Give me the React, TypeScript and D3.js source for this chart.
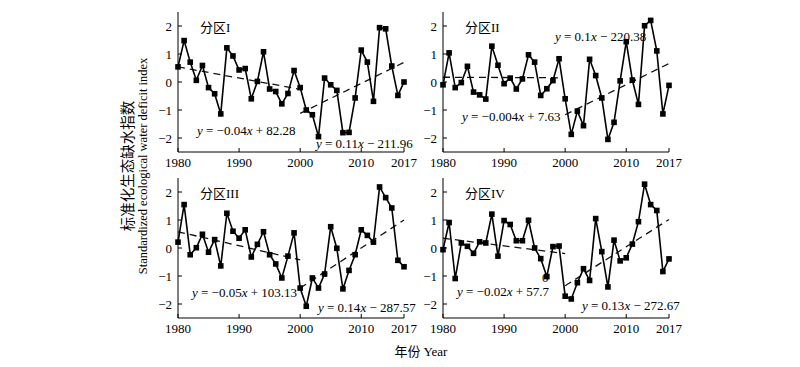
import * as d3 from 'd3';

const years = d3.range(1980, 2018);

const zone1 = [0.54, 1.48, 0.71, 0.06, 0.59, -0.2, -0.42, -1.14, 1.22, 0.93, 0.43, 0.48, -0.6, 0.02, 1.08, -0.25, -0.34, -0.78, -0.41, 0.41, -0.2, -1.0, -1.17, -1.95, 0.14, -0.1, -0.3, -1.81, -1.8, -0.57, 1.14, 0.71, -0.69, 1.94, 1.9, 0.57, -0.48, 0.0];
const zone2 = [-0.1, 1.04, -0.2, -0.02, 0.56, -0.36, -0.46, -0.61, 1.28, 0.6, -0.06, 0.14, -0.25, 0.11, 0.97, 0.71, -0.48, -0.24, 0.05, 0.83, -0.6, -1.87, -1.04, -1.56, 0.81, 0.23, -0.57, -2.05, -1.44, 0.04, 1.44, 0.07, -0.8, 2.01, 2.2, 1.11, -1.14, -0.12];
const zone3 = [0.21, 1.55, -0.24, 0.01, 0.49, -0.15, 0.3, -0.64, 1.24, 0.6, 0.35, 0.65, -0.32, 0.13, 0.58, -0.24, -0.57, -1.07, -0.29, 0.54, -1.43, -2.08, -1.07, -1.43, -0.93, 0.76, -0.01, -1.46, -0.8, -0.24, 0.65, 0.45, 0.21, 2.18, 1.8, 1.43, -0.44, -0.67];
const zone4 = [-0.06, 0.91, -1.09, 0.18, 0.06, -0.19, 0.22, 0.18, 1.21, -0.29, 0.98, 0.84, 0.26, 0.26, 0.99, 0.0, -0.38, -1.02, 0.05, 0.07, -1.72, -1.82, -1.24, -0.74, -1.16, 1.05, -0.13, -1.39, 0.28, -0.46, -0.35, 0.14, 0.94, 2.28, 1.55, 1.34, -0.84, -0.39];

// trend segments [year, value]
const trendA1 = [[1980, 0.54], [2000, -0.26]];
const trendB1 = [[2000, -1.12], [2017, 0.7]];
const trendA2 = [[1980, 0.17], [1999.5, 0.15]];
const trendB2 = [[2000, -1.17], [2017, 0.66]];
const trendA3 = [[1980, 0.58], [2000, -0.42]];
const trendB3 = [[2000, -1.43], [2017, 1.0]];
const trendA4 = [[1980, 0.35], [2000, -0.2]];
const trendB4 = [[2000, -1.35], [2017, 1.02]];

const zoneNames = ['分区I', '分区II', '分区III', '分区IV'];
const eqA = [
  ['−0.04', ' + 82.28'],
  ['−0.004', ' + 7.63'],
  ['−0.05', ' + 103.13'],
  ['−0.02', ' + 57.7'],
];
const eqB = [
  ['0.11', ' − 211.96'],
  ['0.1', ' − 220.38'],
  ['0.14', ' − 287.57'],
  ['0.13', ' − 272.67'],
];

const xTicks = [1980, 1990, 2000, 2010, 2017];
const yTicks = [-2, -1, 0, 1, 2];

const serif = '"Liberation Serif", "Times New Roman", serif';
const cjk = '"Noto Sans CJK SC", sans-serif';

const panels = [
  { data: zone1, tA: trendA1, tB: trendB1, left: 178, top: 12, eqApos: [197, 135], eqBpos: [316, 148] },
  { data: zone2, tA: trendA2, tB: trendB2, left: 443, top: 12, eqApos: [462, 121], eqBpos: [555, 41] },
  { data: zone3, tA: trendA3, tB: trendB3, left: 178, top: 178, eqApos: [192, 297], eqBpos: [318, 312] },
  { data: zone4, tA: trendA4, tB: trendB4, left: 443, top: 178, eqApos: [457, 296], eqBpos: [582, 310] },
];

const W = 226;
const H = 140;

function Panel({ p, i }: { p: any; i: number }) {
  const x = d3.scaleLinear().domain([1980, 2017]).range([p.left, p.left + W]);
  const y = d3.scaleLinear().domain([-2.5, 2.5]).range([p.top + H, p.top]);
  const line = d3.line<number>().x((_, j) => x(years[j])).y((d) => y(d));
  const tline = d3.line<number[]>().x((d) => x(d[0])).y((d) => y(d[1]));
  const bottom = p.top + H;
  return (
    <g>
      <path d={tline(p.tA) || ''} fill="none" stroke="#111" strokeWidth={1.3} strokeDasharray="7,5" />
      <path d={tline(p.tB) || ''} fill="none" stroke="#111" strokeWidth={1.3} strokeDasharray="7,5" />
      <path d={line(p.data) || ''} fill="none" stroke="#000" strokeWidth={1.6} />
      {p.data.map((d: number, j: number) => (
        <rect key={j} x={x(years[j]) - 2.8} y={y(d) - 2.8} width={5.6} height={5.6} fill="#000" />
      ))}
      <line x1={p.left} x2={p.left} y1={p.top} y2={bottom} stroke="#000" strokeWidth={1} />
      <line x1={p.left} x2={p.left + W} y1={bottom} y2={bottom} stroke="#000" strokeWidth={1} />
      {yTicks.map((t) => (
        <g key={t}>
          <line x1={p.left} x2={p.left + 4} y1={y(t)} y2={y(t)} stroke="#000" />
          <text x={p.left - 6} y={y(t) + 4.5} textAnchor="end" fontSize={13} fontFamily={serif}>
            {t < 0 ? '−' + Math.abs(t) : t}
          </text>
        </g>
      ))}
      {xTicks.map((t) => (
        <g key={t}>
          <line x1={x(t)} x2={x(t)} y1={bottom} y2={bottom - 4} stroke="#000" />
          <text x={x(t)} y={bottom + 15} textAnchor="middle" fontSize={13} fontFamily={serif}>
            {t}
          </text>
        </g>
      ))}
      <text x={p.left + 22} y={p.top + 20} fontSize={13}>
        <tspan fontFamily={cjk}>{zoneNames[i].slice(0, 2)}</tspan>
        <tspan fontFamily={serif}>{zoneNames[i].slice(2)}</tspan>
      </text>
      <text x={p.eqApos[0]} y={p.eqApos[1]} fontSize={13} fontFamily={serif}>
        <tspan fontStyle="italic">y</tspan>
        {' = ' + eqA[i][0]}
        <tspan fontStyle="italic">x</tspan>
        {eqA[i][1]}
      </text>
      <text x={p.eqBpos[0]} y={p.eqBpos[1]} fontSize={13} fontFamily={serif}>
        <tspan fontStyle="italic">y</tspan>
        {' = ' + eqB[i][0]}
        <tspan fontStyle="italic">x</tspan>
        {eqB[i][1]}
      </text>
    </g>
  );
}

export default function App() {
  return (
    <svg width={800} height={367} style={{ position: 'absolute', left: 0, top: 0, background: '#fff' }}>
      <rect width={800} height={367} fill="#fff" />
      {panels.map((p, i) => (
        <Panel key={i} p={p} i={i} />
      ))}
      <text x={542} y={282} fontSize={13} fontFamily={serif}>0</text>
      <text transform="translate(133,166) rotate(-90)" textAnchor="middle" fontSize={14.5} fontFamily={cjk}>
        标准化生态缺水指数
      </text>
      <text transform="translate(147,166) rotate(-90)" textAnchor="middle" fontSize={12.5} fontFamily={serif}>
        Standardized ecological water deficit index
      </text>
      <text x={421} y={356} textAnchor="middle" fontSize={13}>
        <tspan fontFamily={cjk}>年份 </tspan>
        <tspan fontFamily={serif}>Year</tspan>
      </text>
    </svg>
  );
}
